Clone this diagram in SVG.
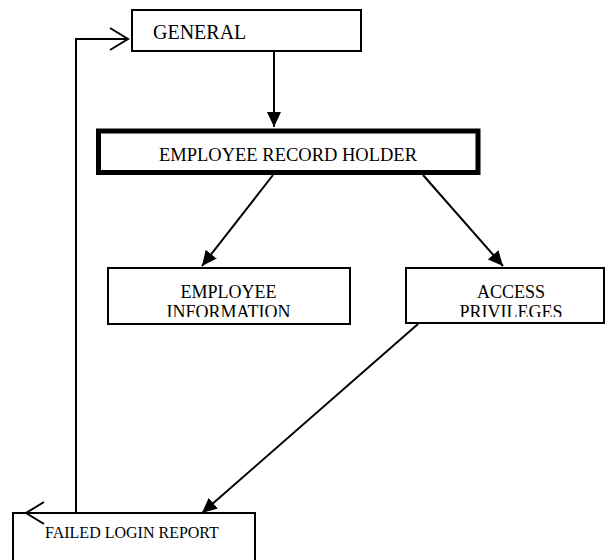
<svg xmlns="http://www.w3.org/2000/svg" width="608" height="560" viewBox="0 0 608 560">
  <style>
    .box { fill: #ffffff; stroke: #000000; stroke-width: 2; }
    .thick { stroke-width: 5; }
    .lbl { font-family: "Liberation Serif", "Times New Roman", serif; fill: #000000; }
    .conn { fill: none; stroke: #000000; stroke-width: 2; }
  </style>
  <defs>
    <marker id="arrow" markerUnits="userSpaceOnUse" markerWidth="17" markerHeight="15" refX="15" refY="7" orient="auto">
      <path d="M0,0 L15,7 L0,14 Z" fill="#000000"/>
    </marker>
    <marker id="open" markerUnits="userSpaceOnUse" markerWidth="22" markerHeight="26" refX="19" refY="12" orient="auto-start-reverse">
      <path d="M1,1 L19,12 L1,23" fill="none" stroke="#000000" stroke-width="2"/>
    </marker>
    <clipPath id="clipEI"><rect x="108" y="268" width="242" height="49"/></clipPath>
    <clipPath id="clipAP"><rect x="406" y="268" width="198" height="49"/></clipPath>
  </defs>

  <g id="connectors">
    <path class="conn" d="M274 51 V127" marker-end="url(#arrow)"/>
    <path class="conn" d="M273 175 L202 266" marker-end="url(#arrow)"/>
    <path class="conn" d="M423 175 L503 266" marker-end="url(#arrow)"/>
    <path class="conn" d="M418 324 L202 513" marker-end="url(#arrow)"/>
  </g>

  <g id="general">
    <rect class="box" x="132" y="10" width="229" height="41"/>
    <text class="lbl" x="153" y="39" font-size="20">GENERAL</text>
  </g>

  <g id="employee-record-holder">
    <rect class="box thick" x="98.5" y="131" width="379.5" height="41.5"/>
    <text class="lbl" x="288" y="161" font-size="18.5" text-anchor="middle">EMPLOYEE RECORD HOLDER</text>
  </g>

  <g id="employee-information">
    <rect class="box" x="108" y="268" width="242" height="56"/>
    <g clip-path="url(#clipEI)">
      <text class="lbl" x="228.5" y="298" font-size="18" text-anchor="middle">EMPLOYEE</text>
      <text class="lbl" x="228.5" y="318" font-size="18" text-anchor="middle">INFORMATION</text>
    </g>
  </g>

  <g id="access-privileges">
    <rect class="box" x="406" y="268" width="198" height="55"/>
    <g clip-path="url(#clipAP)">
      <text class="lbl" x="511" y="298" font-size="18" text-anchor="middle">ACCESS</text>
      <text class="lbl" x="511" y="318" font-size="18" text-anchor="middle">PRIVILEGES</text>
    </g>
  </g>

  <g id="failed-login-report">
    <rect class="box" x="13" y="513" width="242" height="60"/>
    <text class="lbl" x="45" y="538" font-size="16">FAILED LOGIN REPORT</text>
  </g>

  <g id="feedback-connector">
    <path class="conn" d="M26 513 H76 V39 H128" marker-start="url(#open)" marker-end="url(#open)"/>
  </g>
</svg>
